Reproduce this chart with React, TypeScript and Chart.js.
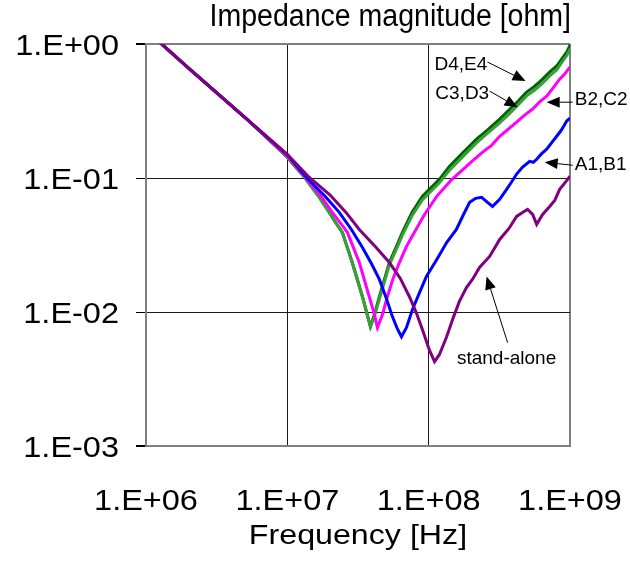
import React, { useEffect, useRef } from 'react';
import { Chart, registerables } from 'chart.js';

Chart.register(...registerables);

const FONT = '"Liberation Sans", Arial, sans-serif';

const chartTitle = 'Impedance magnitude [ohm]';
const xAxisTitle = 'Frequency [Hz]';

const xTickValues = [1e6, 1e7, 1e8, 1e9];
const xTickLabels = ['1.E+06', '1.E+07', '1.E+08', '1.E+09'];
const yTickValues = [1e-3, 1e-2, 1e-1, 1];
const yTickLabels = ['1.E-03', '1.E-02', '1.E-01', '1.E+00'];

// stand-alone (purple)
const standAloneFreq = [1.2e6, 2e6, 5e6, 1e7, 1.43e7, 2.0e7, 2.6e7, 3.23e7, 4.25e7, 5.27e7, 6.3e7, 7.31e7, 8.2e7, 9.04e7, 1.01e8, 1.1e8, 1.19e8, 1.34e8, 1.5e8, 1.65e8, 1.85e8, 2.04e8, 2.29e8, 2.7e8, 3.18e8, 3.7e8, 4.19e8, 4.7e8, 5.01e8, 5.44e8, 5.81e8, 6.4e8, 7.18e8, 7.8e8, 8.45e8, 9.2e8, 1e9];
const standAloneZ = [1.07, 0.661, 0.284, 0.15, 0.101, 0.075, 0.0554, 0.0413, 0.0303, 0.0234, 0.0178, 0.013, 0.0098, 0.00738, 0.00523, 0.00426, 0.0048, 0.00654, 0.0092, 0.012, 0.0152, 0.0175, 0.0215, 0.026, 0.0348, 0.042, 0.0517, 0.056, 0.0583, 0.0535, 0.0451, 0.0535, 0.0614, 0.068, 0.0823, 0.092, 0.103];

// A1,B1 (blue)
const a1b1Freq = [1.2e6, 2e6, 5e6, 1e7, 1.38e7, 1.85e7, 2.33e7, 2.84e7, 3.4e7, 3.95e7, 4.48e7, 5.0e7, 5.54e7, 6.0e7, 6.42e7, 6.96e7, 7.67e7, 8.6e7, 9.64e7, 1.15e8, 1.34e8, 1.57e8, 1.75e8, 1.95e8, 2.15e8, 2.37e8, 2.61e8, 2.83e8, 3.18e8, 3.56e8, 3.9e8, 4.19e8, 4.6e8, 5.18e8, 5.5e8, 5.81e8, 6.3e8, 6.84e8, 7.4e8, 8.05e8, 8.7e8, 9.48e8, 1e9];
const a1b1Z = [1.07, 0.661, 0.284, 0.149, 0.0995, 0.073, 0.0554, 0.0413, 0.0303, 0.0228, 0.0175, 0.0128, 0.00924, 0.0075, 0.00654, 0.00764, 0.0104, 0.0139, 0.0184, 0.025, 0.033, 0.0413, 0.0525, 0.0658, 0.0705, 0.0718, 0.0658, 0.0614, 0.0693, 0.0823, 0.095, 0.107, 0.12, 0.133, 0.131, 0.138, 0.152, 0.164, 0.183, 0.205, 0.228, 0.266, 0.28];

// B2,C2 (magenta)
const b2c2Freq = [1.2e6, 2e6, 5e6, 1e7, 1.36e7, 1.75e7, 2.08e7, 2.4e7, 2.66e7, 3.23e7, 3.8e7, 4.1e7, 4.34e7, 4.71e7, 5.1e7, 5.6e7, 6.21e7, 6.96e7, 7.93e7, 9.3e7, 1.14e8, 1.45e8, 1.85e8, 2.1e8, 2.41e8, 2.8e8, 3.18e8, 3.6e8, 4.19e8, 4.8e8, 5.44e8, 6.1e8, 6.84e8, 7.6e8, 8.45e8, 9.2e8, 1e9];
const b2c2Z = [1.07, 0.661, 0.284, 0.145, 0.0995, 0.072, 0.0554, 0.0455, 0.0393, 0.0234, 0.013, 0.0099, 0.00764, 0.00957, 0.013, 0.0178, 0.0234, 0.0308, 0.0393, 0.053, 0.073, 0.097, 0.122, 0.138, 0.156, 0.176, 0.205, 0.228, 0.261, 0.296, 0.327, 0.37, 0.408, 0.47, 0.547, 0.6, 0.673];

// C3,D3 (light green) and D4,E4 (dark green)
const greenFreq = [1.2e6, 2e6, 5e6, 1e7, 1.34e7, 1.65e7, 1.98e7, 2.2e7, 2.45e7, 2.88e7, 3.4e7, 3.87e7, 4.13e7, 4.48e7, 4.9e7, 5.27e7, 5.91e7, 6.52e7, 7.6e7, 9.04e7, 1.19e8, 1.4e8, 1.75e8, 2.18e8, 2.6e8, 3.18e8, 3.7e8, 4.3e8, 4.93e8, 5.6e8, 6.4e8, 7.2e8, 8.05e8, 8.8e8, 9.48e8, 1.01e9];
const c3d3Z = [1.07, 0.661, 0.284, 0.143, 0.0995, 0.074, 0.0554, 0.0465, 0.0393, 0.0234, 0.013, 0.00778, 0.0093, 0.0125, 0.0172, 0.0225, 0.0295, 0.0375, 0.052, 0.069, 0.092, 0.114, 0.145, 0.183, 0.215, 0.258, 0.3, 0.352, 0.41, 0.452, 0.51, 0.58, 0.64, 0.735, 0.82, 0.93];
const d4e4Z = [1.07, 0.661, 0.284, 0.143, 0.0995, 0.074, 0.0554, 0.0465, 0.0393, 0.0234, 0.013, 0.00778, 0.00957, 0.013, 0.018, 0.0234, 0.0308, 0.0393, 0.055, 0.073, 0.0978, 0.122, 0.155, 0.195, 0.228, 0.275, 0.322, 0.375, 0.438, 0.482, 0.547, 0.62, 0.685, 0.78, 0.871, 1.0];

// annotations in data coordinates (frequency, impedance)
const notes = [
  { text: 'D4,E4', tx: 2.6e8, ty: 0.697, align: 'right', from: [2.61e8, 0.733], to: [4.85e8, 0.529] },
  { text: 'C3,D3', tx: 2.68e8, ty: 0.423, align: 'right', from: [2.7e8, 0.445], to: [4.26e8, 0.338] },
  { text: 'B2,C2', tx: 1.08e9, ty: 0.381, align: 'left', from: [1.045e9, 0.368], to: [6.84e8, 0.368] },
  { text: 'A1,B1', tx: 1.08e9, ty: 0.1266, align: 'left', from: [1.045e9, 0.1245], to: [6.62e8, 0.131] },
  { text: 'stand-alone', tx: 3.56e8, ty: 0.00448, align: 'center', from: [3.62e8, 0.0059], to: [2.57e8, 0.0184] },
];

const pts = (f: number[], z: number[]) => f.map((v, i) => ({ x: v, y: z[i] }));

// draws text with a horizontal stretch factor (the source rendering is not proportional)
function stretchText(ctx: CanvasRenderingContext2D, text: string, x: number, y: number, size: number, sx: number, align: CanvasTextAlign) {
  ctx.save();
  ctx.translate(x, y);
  ctx.scale(sx, 1);
  ctx.font = `${size}px ${FONT}`;
  ctx.textAlign = align;
  ctx.textBaseline = 'alphabetic';
  ctx.fillText(text, 0, 0);
  ctx.restore();
}

const notesPlugin = {
  id: 'notes',
  afterDraw(chart: any) {
    const { ctx, chartArea, scales } = chart;
    const xs = scales.x;
    const ys = scales.y;
    ctx.save();
    ctx.fillStyle = '#000';

    // title
    stretchText(ctx, chartTitle, chartArea.right + 1, chartArea.top - 18, 31, 0.92, 'right');
    // y tick labels
    yTickValues.forEach((v, i) => {
      stretchText(ctx, yTickLabels[i], ys.right - 27, ys.getPixelForValue(v) + 10.5, 29, 1.12, 'right');
    });
    // x tick labels
    xTickValues.forEach((v, i) => {
      stretchText(ctx, xTickLabels[i], xs.getPixelForValue(v), chartArea.bottom + 64, 29, 1.12, 'center');
    });
    // x axis title
    stretchText(ctx, xAxisTitle, (chartArea.left + chartArea.right) / 2, chartArea.bottom + 98, 28, 1.15, 'center');

    ctx.font = `19px ${FONT}`;
    ctx.textBaseline = 'middle';
    ctx.strokeStyle = '#000';
    ctx.lineWidth = 1;
    for (const n of notes) {
      ctx.textAlign = n.align as CanvasTextAlign;
      ctx.fillText(n.text, xs.getPixelForValue(n.tx), ys.getPixelForValue(n.ty));
      const x1 = xs.getPixelForValue(n.from[0]);
      const y1 = ys.getPixelForValue(n.from[1]);
      const x2 = xs.getPixelForValue(n.to[0]);
      const y2 = ys.getPixelForValue(n.to[1]);
      const ang = Math.atan2(y2 - y1, x2 - x1);
      const hl = 13;
      const hw = 5.5;
      const bx = x2 - hl * Math.cos(ang);
      const by = y2 - hl * Math.sin(ang);
      ctx.beginPath();
      ctx.moveTo(x1, y1);
      ctx.lineTo(bx, by);
      ctx.stroke();
      ctx.beginPath();
      ctx.moveTo(x2, y2);
      ctx.lineTo(bx + hw * Math.sin(ang), by - hw * Math.cos(ang));
      ctx.lineTo(bx - hw * Math.sin(ang), by + hw * Math.cos(ang));
      ctx.closePath();
      ctx.fill();
    }
    ctx.restore();
  },
};

const edgeColor = '#808080';
const gridColor = '#1a1a1a';

export default function App() {
  const ref = useRef<HTMLCanvasElement | null>(null);

  useEffect(() => {
    if (!ref.current) return;
    const mk = (label: string, data: any[], color: string) => ({
      label,
      data,
      borderColor: color,
      backgroundColor: color,
      borderWidth: 3,
      pointRadius: 0,
      tension: 0,
      fill: false,
    });
    const chart = new Chart(ref.current, {
      type: 'line',
      data: {
        datasets: [
          mk('stand-alone', pts(standAloneFreq, standAloneZ), '#800080'),
          mk('A1,B1', pts(a1b1Freq, a1b1Z), '#0000FF'),
          mk('B2,C2', pts(b2c2Freq, b2c2Z), '#FF00FF'),
          mk('C3,D3', pts(greenFreq, c3d3Z), '#3A9F3A'),
          mk('D4,E4', pts(greenFreq, d4e4Z), '#006400'),
        ],
      },
      options: {
        responsive: false,
        animation: false,
        events: [],
        layout: { padding: { top: 44, right: 60, left: 0, bottom: 0 } },
        plugins: {
          legend: { display: false },
          title: { display: false },
          tooltip: { enabled: false },
        },
        scales: {
          x: {
            type: 'logarithmic',
            min: xTickValues[0],
            max: xTickValues[xTickValues.length - 1],
            afterBuildTicks: (s: any) => {
              s.ticks = xTickValues.map((v) => ({ value: v }));
            },
            afterFit: (s: any) => {
              s.height = 118;
              s.paddingLeft = 0;
              s.paddingRight = 0;
            },
            ticks: { display: false, autoSkip: false, maxRotation: 0 },
            grid: {
              drawTicks: false,
              color: (c: any) => (c.index === 0 || c.index === xTickValues.length - 1 ? edgeColor : gridColor),
              lineWidth: (c: any) => (c.index === 0 || c.index === xTickValues.length - 1 ? 2 : 1),
            },
            border: { display: true, color: edgeColor, width: 2 },
          },
          y: {
            type: 'logarithmic',
            min: yTickValues[0],
            max: yTickValues[yTickValues.length - 1],
            afterBuildTicks: (s: any) => {
              s.ticks = yTickValues.map((v) => ({ value: v }));
            },
            afterFit: (s: any) => {
              s.width = 146;
              s.paddingTop = 0;
              s.paddingBottom = 0;
            },
            ticks: { display: false, autoSkip: false },
            grid: {
              drawTicks: true,
              tickLength: 10,
              tickColor: '#000',
              color: (c: any) => (c.index === 0 || c.index === yTickValues.length - 1 ? edgeColor : gridColor),
              lineWidth: (c: any) => (c.index === 0 || c.index === yTickValues.length - 1 ? 2 : 1),
            },
            border: { display: true, color: edgeColor, width: 2 },
          },
        },
      },
      plugins: [notesPlugin],
    } as any);
    return () => chart.destroy();
  }, []);

  return (
    <div style={{ position: 'absolute', left: 0, top: 0, width: 630, height: 564, background: '#fff' }}>
      <canvas ref={ref} width={630} height={564} />
    </div>
  );
}
